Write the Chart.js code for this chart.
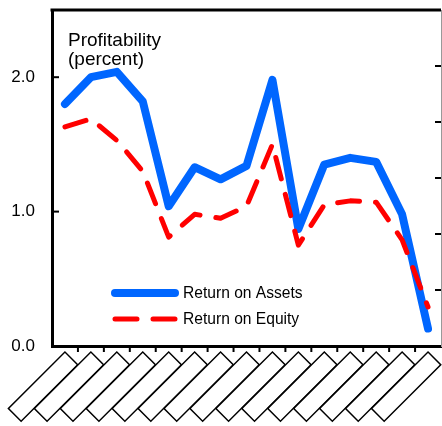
<!DOCTYPE html>
<html>
<head>
<meta charset="utf-8">
<script src="https://cdn.jsdelivr.net/npm/chart.js@4.4.1/dist/chart.umd.min.js"></script>
<style>
  html, body { margin: 0; padding: 0; background: #fff; }
  #wrap { width: 442px; height: 426px; }
</style>
</head>
<body>
<div id="wrap"><canvas id="profitChart" width="442" height="426"></canvas></div>
<script>
// category labels are blank boxes in the original
const categories = ['', '', '', '', '', '', '', '', '', '', '', '', '', '', ''];
const returnOnAssets = [1.80, 2.00, 2.04, 1.82, 1.04, 1.33, 1.24, 1.34, 1.98, 0.87, 1.35, 1.40, 1.37, 0.98, 0.13];
const returnOnEquity = [1.63, 1.69, 1.53, 1.30, 0.81, 0.98, 0.95, 1.04, 1.50, 0.75, 1.05, 1.08, 1.07, 0.79, 0.29];
const leftTicks = [0, 1, 2];
const rightTicks = [1, 2, 3, 4, 5];
const titleLines = ['Profitability', '(percent)'];

const FONT = '"Liberation Sans", Arial, sans-serif';

// title, legend, tick marks and label boxes
const decorations = {
  id: 'decorations',
  afterDraw(chart) {
    const { ctx, chartArea: area, scales } = chart;
    ctx.save();

    // top frame line
    ctx.strokeStyle = '#000';
    ctx.lineWidth = 3;
    ctx.beginPath();
    ctx.moveTo(area.left - 1.5, area.top);
    ctx.lineTo(area.right, area.top);
    ctx.stroke();

    // tick marks
    ctx.lineWidth = 2;
    leftTicks.forEach(v => {
      const y = scales.y.getPixelForValue(v);
      ctx.beginPath();
      ctx.moveTo(area.left, y);
      ctx.lineTo(area.left + 7, y);
      ctx.stroke();
    });
    rightTicks.forEach(v => {
      const y = scales.y2.getPixelForValue(v);
      ctx.beginPath();
      ctx.moveTo(area.right - 6, y);
      ctx.lineTo(area.right, y);
      ctx.stroke();
    });
    for (let i = 1; i < categories.length; i++) {
      const x = (scales.x.getPixelForValue(i - 1) + scales.x.getPixelForValue(i)) / 2;
      ctx.beginPath();
      ctx.moveTo(x, area.bottom);
      ctx.lineTo(x, area.bottom + 6);
      ctx.stroke();
    }

    // rotated label boxes
    ctx.lineWidth = 1.5;
    categories.forEach((c, i) => {
      const x = scales.x.getPixelForValue(i);
      ctx.save();
      ctx.translate(x, area.bottom + 6);
      ctx.rotate(Math.PI / 4);
      ctx.fillStyle = '#fff';
      ctx.fillRect(0, 0, 18, 80);
      ctx.strokeRect(0, 0, 18, 80);
      ctx.restore();
    });

    // title inside the plot
    ctx.fillStyle = '#000';
    ctx.font = '19px ' + FONT;
    ctx.textBaseline = 'alphabetic';
    ctx.fillText(titleLines[0], 68, 46);
    ctx.fillText(titleLines[1], 68, 65);

    // legend
    ctx.font = '15.6px ' + FONT;
    ctx.textBaseline = 'middle';
    chart.data.datasets.forEach((ds, i) => {
      const y = 293 + i * 26;
      ctx.strokeStyle = ds.borderColor;
      ctx.lineWidth = ds.borderWidth;
      ctx.lineCap = 'round';
      ctx.setLineDash(ds.borderDash || []);
      ctx.beginPath();
      ctx.moveTo(115, y);
      ctx.lineTo(175, y);
      ctx.stroke();
      ctx.setLineDash([]);
      ctx.fillStyle = '#000';
      ctx.fillText(ds.label, 183, y + 1);
    });

    ctx.restore();
  }
};

new Chart(document.getElementById('profitChart'), {
  type: 'line',
  data: {
    labels: categories,
    datasets: [
      {
        label: 'Return on Assets',
        data: returnOnAssets,
        borderColor: '#0066FF',
        borderWidth: 8,
        borderCapStyle: 'round',
        borderJoinStyle: 'round',
        pointRadius: 0,
        tension: 0,
        order: 1
      },
      {
        label: 'Return on Equity',
        data: returnOnEquity,
        borderColor: '#FF0000',
        borderWidth: 5,
        borderDash: [22, 16],
        borderCapStyle: 'round',
        borderJoinStyle: 'round',
        pointRadius: 0,
        tension: 0,
        order: 0
      }
    ]
  },
  options: {
    responsive: false,
    animation: false,
    layout: { padding: { top: 10, left: 0, right: 0, bottom: 0 } },
    plugins: {
      legend: { display: false },
      tooltip: { enabled: false }
    },
    scales: {
      x: {
        offset: true,
        grid: { display: false },
        border: { display: true, color: '#000', width: 3 },
        ticks: { display: false },
        afterFit: s => { s.height = 80; s.paddingLeft = 0; s.paddingRight = 0; }
      },
      y: {
        position: 'left',
        min: 0,
        max: 2.5,
        grid: { display: false },
        border: { display: true, color: '#000', width: 3 },
        ticks: {
          stepSize: 1,
          padding: 9,
          color: '#000',
          font: { family: FONT, size: 17 },
          callback: v => v.toFixed(1)
        },
        afterBuildTicks: s => { s.ticks = s.ticks.filter(t => leftTicks.includes(t.value)); },
        afterFit: s => { s.width = 52; s.paddingTop = 0; s.paddingBottom = 0; }
      },
      y2: {
        position: 'right',
        min: 0,
        max: 6,
        grid: { display: false },
        border: { display: true, color: '#999', width: 1 },
        ticks: { display: false, stepSize: 1 },
        afterFit: s => { s.width = 1; s.paddingTop = 0; s.paddingBottom = 0; }
      }
    }
  },
  plugins: [decorations]
});
</script>
</body>
</html>
